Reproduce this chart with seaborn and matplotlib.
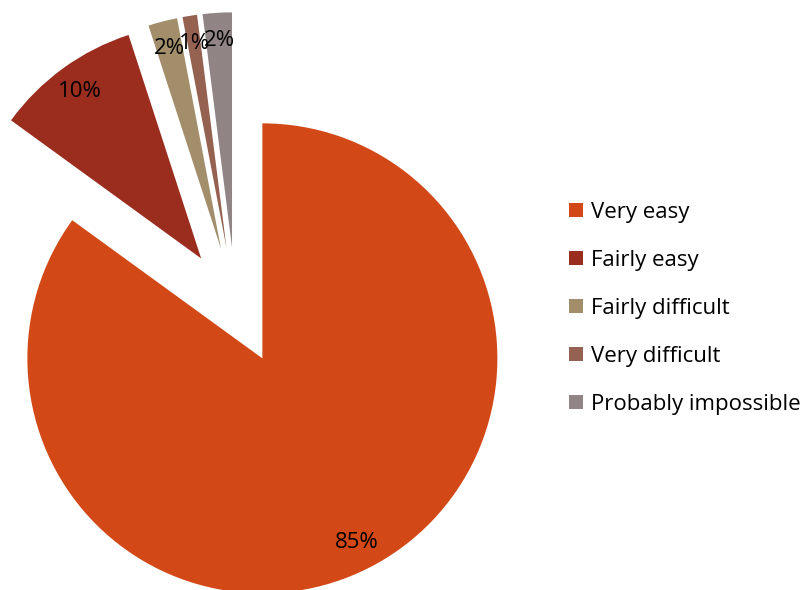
import matplotlib
matplotlib.use("Agg")
import matplotlib.pyplot as plt
import seaborn as sns

# Survey answers and their shares (%)
categories = ["Very easy", "Fairly easy", "Fairly difficult", "Very difficult", "Probably impossible"]
shares = [85, 10, 2, 1, 2]
slice_colors = ["#D34817", "#9B2D1F", "#A28E6A", "#956251", "#918485"]

sns.set_theme(style="white")
plt.rcParams["font.family"] = ["Open Sans", "DejaVu Sans"]
plt.rcParams["text.color"] = "black"

W, H = 810, 590
R = 235
fig = plt.figure(figsize=(W / 100, H / 100), dpi=100)
ax = fig.add_axes([0, 0, 1, 1])

palette = sns.color_palette(slice_colors)
wedges, texts, autotexts = ax.pie(
    shares,
    colors=palette,
    startangle=90,
    counterclock=False,
    explode=[0.25 * R] * len(shares),
    radius=R,
    center=(235.7, H - 306),
    autopct="%1.0f%%",
    pctdistance=0.88,
    textprops=dict(fontsize=16, color="black"),
    wedgeprops=dict(linewidth=0),
    frame=True,
)
ax.set_xlim(0, W)
ax.set_ylim(0, H)
ax.set_aspect("equal")
ax.axis("off")

leg = ax.legend(
    wedges, categories,
    loc="upper left",
    bbox_to_anchor=(569 / W, 1 - 202 / H),
    bbox_transform=fig.transFigure,
    frameon=False,
    fontsize=16,
    labelcolor="black",
    handlelength=0.62,
    handleheight=0.62,
    handletextpad=0.35,
    labelspacing=1.21,
    borderpad=0,
    borderaxespad=0,
)

fig.savefig("out.png", dpi=100)
